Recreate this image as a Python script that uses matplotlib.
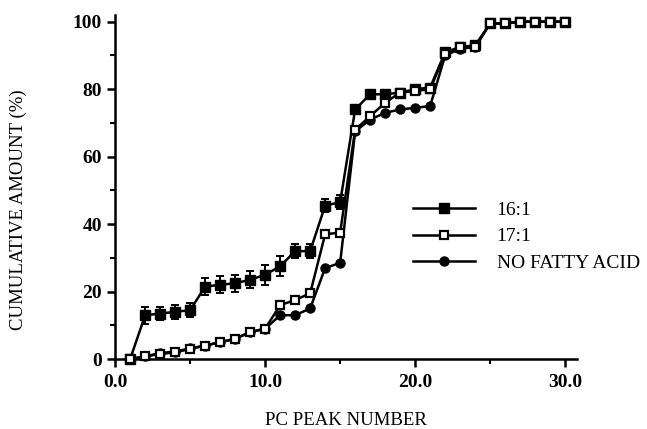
import matplotlib.pyplot as plt
import numpy as np
from matplotlib.lines import Line2D
from matplotlib.ticker import MultipleLocator, FormatStrFormatter

# PC peak numbers 1..30
peaks = np.arange(1, 31)

# cumulative amount (%) for each treatment
fa_16_1 = [0, 13, 13.5, 14, 14.5, 21.5, 22, 22.5, 23.5, 25, 27.5, 32, 32, 45.5, 46.5,
           74, 78.5, 78.5, 79, 80, 80.5, 91, 92.5, 93, 99.5, 99.5, 100, 100, 100, 100]
err_16_1 = [0, 2.5, 2, 2, 2, 2.5, 2.5, 2.5, 2.5, 3, 3, 2, 2, 2, 2,
            1, 1, 1, 1, 1, 1, 1, 1, 1, 0.5, 0.5, 0.5, 0.5, 0.5, 0.5]
fa_17_1 = [0, 0.8, 1.5, 2, 3, 4, 5, 6, 8, 9, 16, 17.5, 19.5, 37, 37.5,
           68, 72, 76, 79, 79.5, 80, 90.5, 92.5, 92.5, 99.5, 99.5, 100, 100, 100, 100]
no_fa = [0, 0.8, 1.8, 2.2, 3.2, 4, 5, 6, 8, 9, 13, 13, 15, 27, 28.5,
         67.5, 71, 73, 74, 74.5, 75, 90, 92, 92.5, 99.5, 99.5, 100, 100, 100, 100]

plt.rcParams['font.family'] = ['Liberation Serif', 'DejaVu Serif']

fig = plt.figure(figsize=(6.47, 4.29), dpi=100)
ax = fig.add_axes([0.178, 0.163, 0.714, 0.802])

lw = 1.8
ax.errorbar(peaks, fa_16_1, yerr=err_16_1, color='black', lw=lw, marker='s', ms=6.5,
            mfc='black', mec='black', capsize=3, elinewidth=1.4, capthick=1.4,
            clip_on=False, zorder=3)
ax.plot(peaks, fa_17_1, color='black', lw=lw, marker='s', ms=6, mfc='white',
        mec='black', mew=1.6, clip_on=False, zorder=4)
ax.plot(peaks, no_fa, color='black', lw=lw, marker='o', ms=6.5, mfc='black',
        mec='black', clip_on=False, zorder=2)

ax.set_xlim(0, 30.8)
ax.set_ylim(0, 102)
ax.xaxis.set_major_locator(MultipleLocator(10))
ax.xaxis.set_minor_locator(MultipleLocator(5))
ax.xaxis.set_major_formatter(FormatStrFormatter('%.1f'))
ax.yaxis.set_major_locator(MultipleLocator(20))
ax.yaxis.set_minor_locator(MultipleLocator(10))

for side in ['top', 'right']:
    ax.spines[side].set_visible(False)
for side in ['left', 'bottom']:
    ax.spines[side].set_linewidth(1.8)

ax.tick_params(which='major', length=6, width=1.8, labelsize=14, direction='out')
ax.tick_params(which='minor', length=3.5, width=1.5, direction='out')
ax.tick_params(axis='x', pad=5)
for lab in ax.get_xticklabels() + ax.get_yticklabels():
    lab.set_fontweight('bold')

ax.set_xlabel('PC PEAK NUMBER', fontsize=13.5)
ax.set_ylabel('CUMULATIVE AMOUNT (%)', fontsize=13.5)
ax.xaxis.set_label_coords(0.5, -0.155)
ax.yaxis.set_label_coords(-0.19, 0.433)

handles = [
    Line2D([], [], color='black', lw=lw, marker='s', ms=6.5, mfc='black'),
    Line2D([], [], color='black', lw=lw, marker='s', ms=6, mfc='white', mew=1.6),
    Line2D([], [], color='black', lw=lw, marker='o', ms=6.5, mfc='black'),
]
labels = ['16:1', '17:1', 'NO FATTY ACID']
ax.legend(handles, labels, loc='center left', bbox_to_anchor=(0.628, 0.356),
          frameon=False, fontsize=14, handlelength=3.2, handletextpad=1.1,
          labelspacing=0.45, numpoints=1, borderaxespad=0)

fig.savefig('out.png', dpi=100)
